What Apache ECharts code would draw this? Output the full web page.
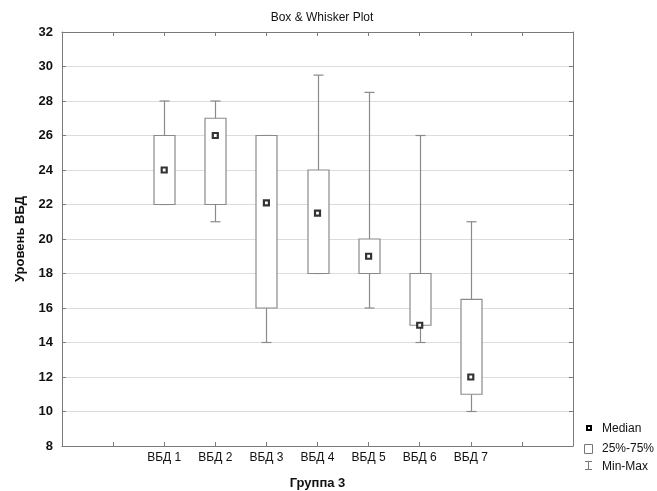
<!DOCTYPE html>
<html>
<head>
<meta charset="utf-8">
<script src="https://cdn.jsdelivr.net/npm/echarts@6/dist/echarts.min.js"></script>
<style>html,body{margin:0;padding:0;background:#fff}#c{width:657px;height:491px}</style>
</head>
<body>
<div id="c"></div>
<script>
// Data
const groups = ['ВБД 1', 'ВБД 2', 'ВБД 3', 'ВБД 4', 'ВБД 5', 'ВБД 6', 'ВБД 7'];
const mins    = [22, 21, 14, 18, 16, 14, 10];
const q1s     = [22, 22, 16, 18, 18, 15, 11];
const medians = [24, 26, 22.1, 21.5, 19, 15, 12];
const q3s     = [26, 27, 26, 24, 20, 18, 16.5];
const maxs    = [28, 28, 26, 29.5, 28.5, 26, 21];
const yTicks  = [8, 10, 12, 14, 16, 18, 20, 22, 24, 26, 28, 30, 32];
const legendNames = ['Median', '25%-75%', 'Min-Max'];

// Axis positions: two empty slots before, two after
const categories = ['', ''].concat(groups, ['', '']);
const offset = 2;

const boxData = groups.map((g, i) => [i + offset, mins[i], q1s[i], medians[i], q3s[i], maxs[i]]);
const medData = groups.map((g, i) => [i + offset, medians[i]]);

const FONT = '"Liberation Sans", Arial, sans-serif';
const AXIS_COLOR = '#7a7a7a';
const BOX_COLOR = '#8a8a8a';

const chart = echarts.init(document.getElementById('c'), null, {renderer: 'canvas'});

function renderBox(params, api) {
  const x = api.value(0);
  const pMin = api.coord([x, api.value(1)]);
  const pQ1 = api.coord([x, api.value(2)]);
  const pQ3 = api.coord([x, api.value(4)]);
  const pMax = api.coord([x, api.value(5)]);
  const bw = 21, cw = 10;
  const cx = Math.round(pQ1[0]) + 0.5;
  const st = {stroke: BOX_COLOR, lineWidth: 1.2, fill: null};
  return {
    type: 'group',
    children: [
      {type: 'line', shape: {x1: cx, y1: pQ3[1], x2: cx, y2: pMax[1]}, style: st},
      {type: 'line', shape: {x1: cx, y1: pMin[1], x2: cx, y2: pQ1[1]}, style: st},
      {type: 'line', shape: {x1: cx - cw / 2, y1: pMax[1], x2: cx + cw / 2, y2: pMax[1]}, style: st},
      {type: 'line', shape: {x1: cx - cw / 2, y1: pMin[1], x2: cx + cw / 2, y2: pMin[1]}, style: st},
      {type: 'rect', shape: {x: cx - bw / 2, y: pQ3[1], width: bw, height: pQ1[1] - pQ3[1]},
        style: {stroke: BOX_COLOR, lineWidth: 1.2, fill: '#fff'}}
    ]
  };
}

const legendText = {fontFamily: FONT, fontSize: 12, fill: '#111', verticalAlign: 'middle', align: 'left'};

const option = {
  backgroundColor: '#fff',
  animation: false,
  title: {
    text: 'Box & Whisker Plot',
    left: 317, top: 7, textAlign: 'center',
    textStyle: {fontFamily: FONT, fontSize: 12, fontWeight: 'normal', color: '#111'}
  },
  graphic: [
    {type: 'rect', shape: {x: 587, y: 426, width: 4, height: 4}, style: {fill: '#fff', stroke: '#000', lineWidth: 2}},
    {type: 'text', x: 602, y: 429, style: Object.assign({text: legendNames[0]}, legendText)},
    {type: 'rect', shape: {x: 584.5, y: 444.5, width: 8, height: 9}, style: {fill: '#fff', stroke: '#777', lineWidth: 1}},
    {type: 'text', x: 602, y: 448.5, style: Object.assign({text: legendNames[1]}, legendText)},
    {type: 'line', shape: {x1: 585, y1: 461.5, x2: 592, y2: 461.5}, style: {stroke: '#777', lineWidth: 1}},
    {type: 'line', shape: {x1: 588.5, y1: 461.5, x2: 588.5, y2: 469.5}, style: {stroke: '#777', lineWidth: 1}},
    {type: 'line', shape: {x1: 585, y1: 469.5, x2: 592, y2: 469.5}, style: {stroke: '#777', lineWidth: 1}},
    {type: 'text', x: 602, y: 466.5, style: Object.assign({text: legendNames[2]}, legendText)}
  ],
  grid: {left: 62, right: 84, top: 32, bottom: 45, containLabel: false, outerBoundsMode: 'none'},
  xAxis: [{
    type: 'category', data: categories, boundaryGap: false, position: 'bottom',
    name: 'Группа 3', nameLocation: 'middle', nameGap: 31,
    nameTextStyle: {fontFamily: FONT, fontSize: 13, fontWeight: 'bold', color: '#111'},
    axisLine: {show: true, lineStyle: {color: AXIS_COLOR, width: 1}},
    axisTick: {show: true, inside: true, length: 4, interval: 0, lineStyle: {color: AXIS_COLOR}},
    axisLabel: {interval: 0, fontFamily: FONT, fontSize: 12, color: '#111', margin: 6},
    splitLine: {show: false}
  }, {
    type: 'category', data: categories, boundaryGap: false, position: 'top',
    axisLine: {show: true, lineStyle: {color: AXIS_COLOR, width: 1}},
    axisTick: {show: true, inside: true, length: 4, interval: 0, lineStyle: {color: AXIS_COLOR}},
    axisLabel: {show: false}, splitLine: {show: false}
  }],
  yAxis: [{
    type: 'value', min: yTicks[0], max: yTicks[yTicks.length - 1], interval: 2, position: 'left',
    name: 'Уровень ВБД', nameLocation: 'middle', nameGap: 35,
    nameTextStyle: {fontFamily: FONT, fontSize: 13, fontWeight: 'bold', color: '#111'},
    axisLine: {show: true, lineStyle: {color: AXIS_COLOR, width: 1}},
    axisTick: {show: true, inside: true, length: 4, lineStyle: {color: AXIS_COLOR}},
    axisLabel: {fontFamily: FONT, fontSize: 13, fontWeight: 'bold', color: '#111', margin: 9, showMinLabel: true, showMaxLabel: true},
    splitLine: {show: true, lineStyle: {color: '#dcdcdc', width: 1}}
  }, {
    type: 'value', min: yTicks[0], max: yTicks[yTicks.length - 1], interval: 2, position: 'right',
    axisLine: {show: true, lineStyle: {color: AXIS_COLOR, width: 1}},
    axisTick: {show: true, inside: true, length: 4, lineStyle: {color: AXIS_COLOR}},
    axisLabel: {show: false}, splitLine: {show: false}
  }],
  series: [{
    name: legendNames[2], type: 'custom', xAxisIndex: 0, yAxisIndex: 0,
    renderItem: renderBox, data: boxData, encode: {x: 0, y: [1, 2, 3, 4, 5]}, z: 2
  }, {
    name: legendNames[0], type: 'scatter', xAxisIndex: 0, yAxisIndex: 0,
    data: medData, symbol: 'rect', symbolSize: 5,
    itemStyle: {color: '#fff', borderColor: '#000', borderWidth: 2.2}, z: 5
  }]
};
chart.setOption(option);
</script>
</body>
</html>
